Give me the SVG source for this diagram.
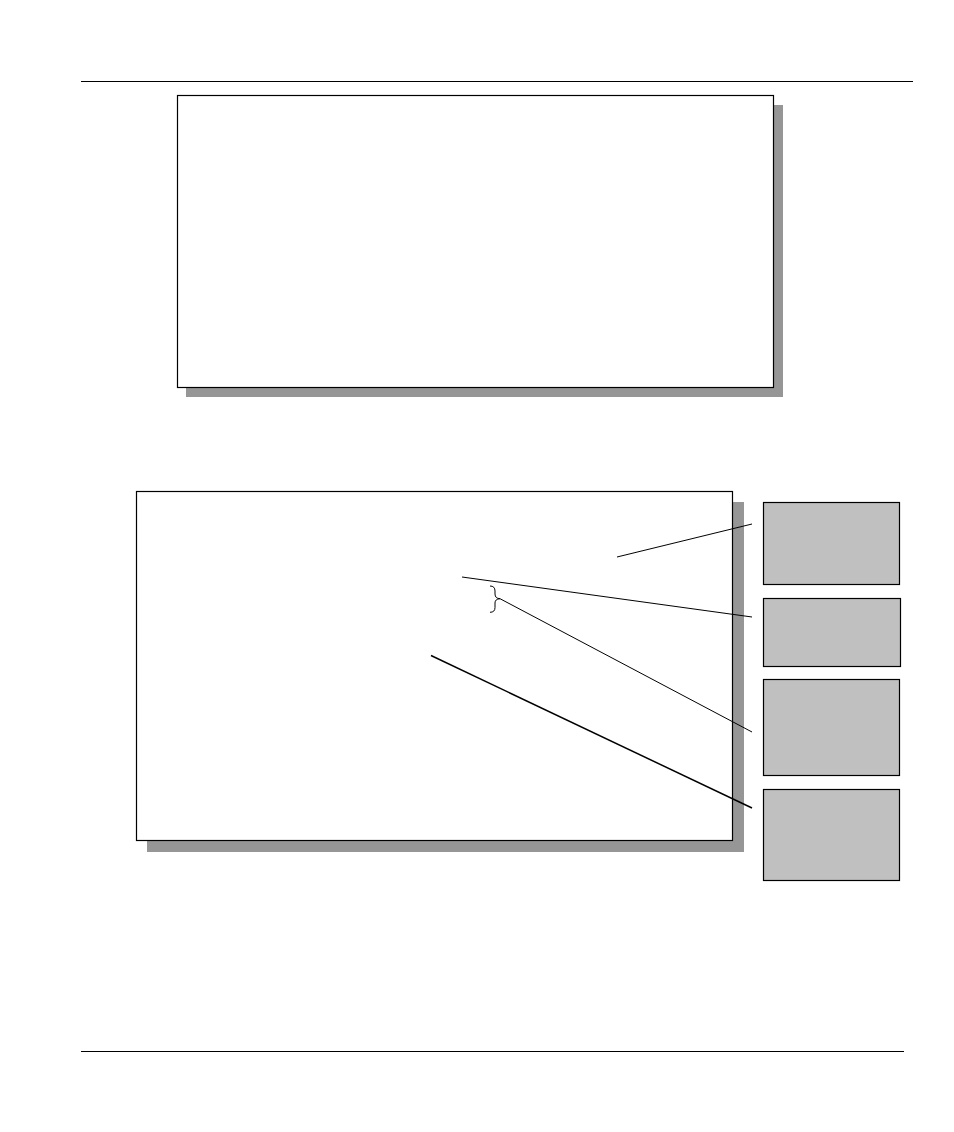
<svg xmlns="http://www.w3.org/2000/svg" width="954" height="1132" viewBox="0 0 954 1132">
<style>
.rule{stroke:#000;stroke-width:1}
.shadow{fill:#969696;stroke:none}
.panel{fill:#fff;stroke:#000;stroke-width:1.2}
.callout{fill:#c0c0c0;stroke:#000;stroke-width:1.2}
.lead{stroke:#000;stroke-width:1;fill:none}
</style>
<rect width="954" height="1132" fill="#fff"/>
<line class="rule" x1="81" y1="81.5" x2="913" y2="81.5"/>
<line class="rule" x1="81" y1="1051.5" x2="904" y2="1051.5"/>
<g id="top-panel">
<rect class="shadow" x="186" y="105" width="597" height="292"/>
<rect class="panel" x="177.5" y="95.5" width="596" height="292"/>
</g>
<g id="main-panel">
<rect class="shadow" x="147" y="502" width="597" height="350"/>
<rect class="panel" x="136.5" y="491.5" width="596" height="349"/>
</g>
<g id="callout-1"><rect class="callout" x="763.5" y="502.5" width="136" height="82"/></g>
<g id="callout-2"><rect class="callout" x="763.5" y="598.5" width="137" height="68"/></g>
<g id="callout-3"><rect class="callout" x="763.5" y="679.5" width="136" height="96"/></g>
<g id="callout-4"><rect class="callout" x="763.5" y="789.5" width="136" height="91"/></g>
<g id="connectors">
<line class="lead" x1="617" y1="557" x2="752" y2="524"/>
<line class="lead" x1="462" y1="577" x2="752" y2="617"/>
<path class="lead" d="M490,586 Q495,586 495,591 L495,594 Q495,598.5 500,598.7 Q495,599 495,603 L495,607.5 Q495,612.3 490,612.3"/>
<line class="lead" x1="500" y1="598.7" x2="752" y2="732"/>
<line class="lead" x1="431" y1="655.5" x2="752" y2="808" style="stroke-width:1.5"/>
</g>
</svg>
